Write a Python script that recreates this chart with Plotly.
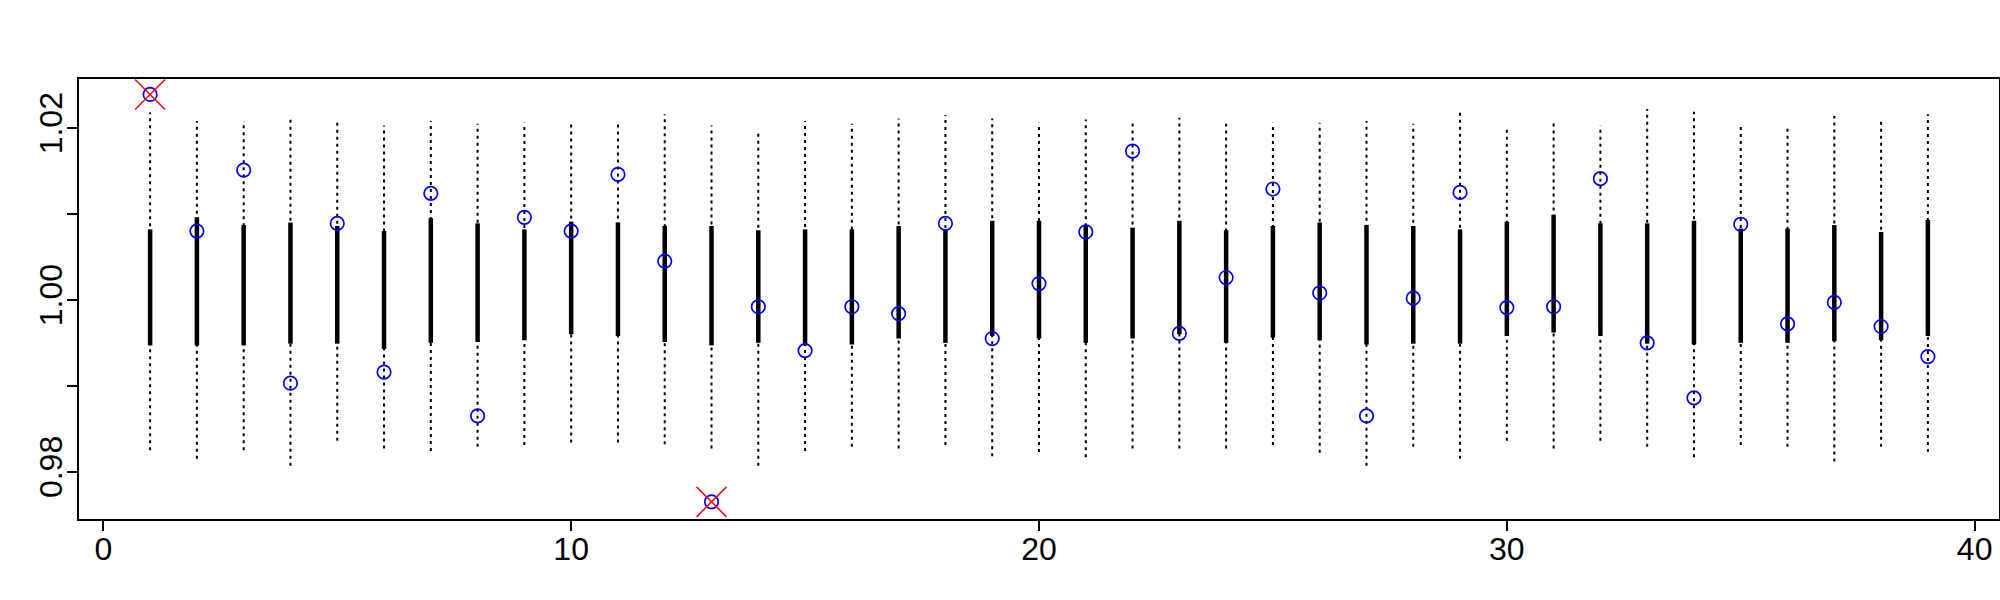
import plotly.graph_objects as go

# Item index
items = list(range(1, 40))

# Observed value (blue circles)
observed = [1.0239, 1.0080, 1.0151, 0.9903, 1.0089, 0.9916, 1.0124, 0.9865, 1.0096, 1.0080,
            1.0146, 1.0045, 0.9765, 0.9992, 0.9941, 0.9992, 0.9984, 1.0089, 0.9955, 1.0019,
            1.0079, 1.0173, 0.9961, 1.0026, 1.0129, 1.0008, 0.9865, 1.0002, 1.0125, 0.9991,
            0.9992, 1.0141, 0.9950, 0.9886, 1.0088, 0.9972, 0.9997, 0.9969, 0.9934]

# Outer interval (dotted whiskers)
whisker_low = [0.9825, 0.9815, 0.9825, 0.9807, 0.9836, 0.9827, 0.9824, 0.9829, 0.9831, 0.9834,
               0.9834, 0.9832, 0.9827, 0.9807, 0.9824, 0.9829, 0.9827, 0.9831, 0.9818, 0.9823,
               0.9817, 0.9827, 0.9827, 0.9827, 0.9831, 0.9822, 0.9807, 0.9829, 0.9815, 0.9836,
               0.9827, 0.9836, 0.9829, 0.9817, 0.9831, 0.9829, 0.9812, 0.9829, 0.9823]
whisker_high = [1.0218, 1.0208, 1.0208, 1.0211, 1.0210, 1.0203, 1.0208, 1.0205, 1.0206, 1.0208,
                1.0208, 1.0216, 1.0203, 1.0194, 1.0208, 1.0205, 1.0211, 1.0215, 1.0211, 1.0206,
                1.0210, 1.0210, 1.0212, 1.0205, 1.0206, 1.0206, 1.0208, 1.0205, 1.0218, 1.0202,
                1.0210, 1.0203, 1.0222, 1.0219, 1.0205, 1.0203, 1.0214, 1.0212, 1.0216]

# Inner interval (thick bars)
bar_low = [0.9947, 0.9947, 0.9947, 0.9949, 0.9949, 0.9943, 0.9950, 0.9951, 0.9953, 0.9960,
           0.9958, 0.9951, 0.9947, 0.9950, 0.9947, 0.9948, 0.9955, 0.9950, 0.9958, 0.9955,
           0.9950, 0.9955, 0.9960, 0.9950, 0.9956, 0.9953, 0.9948, 0.9949, 0.9949, 0.9958,
           0.9962, 0.9958, 0.9949, 0.9948, 0.9950, 0.9950, 0.9952, 0.9953, 0.9958]
bar_high = [1.0082, 1.0096, 1.0087, 1.0090, 1.0086, 1.0080, 1.0095, 1.0089, 1.0082, 1.0091,
            1.0090, 1.0086, 1.0086, 1.0081, 1.0082, 1.0082, 1.0086, 1.0082, 1.0092, 1.0092,
            1.0087, 1.0084, 1.0092, 1.0081, 1.0086, 1.0090, 1.0087, 1.0086, 1.0082, 1.0091,
            1.0099, 1.0089, 1.0089, 1.0092, 1.0083, 1.0083, 1.0087, 1.0079, 1.0093]

x_ticks = [0, 10, 20, 30, 40]
x_labels = ["0", "10", "20", "30", "40"]
y_ticks = [0.98, 0.99, 1.00, 1.01, 1.02]
y_labels = ["0.98", "", "1.00", "", "1.02"]


def segments(lo, hi):
    xs, ys = [], []
    for i, a, b in zip(items, lo, hi):
        xs += [i, i, None]
        ys += [a, b, None]
    return xs, ys


wx, wy = segments(whisker_low, whisker_high)
bx, by = segments(bar_low, bar_high)

flag_x = [i for i, v, lo, hi in zip(items, observed, whisker_low, whisker_high) if v > hi or v < lo]
flag_y = [v for v, lo, hi in zip(observed, whisker_low, whisker_high) if v > hi or v < lo]

fig = go.Figure()
fig.add_trace(go.Scatter(x=wx, y=wy, mode="lines",
                         line=dict(color="black", width=2, dash="3px,4px"),
                         hoverinfo="skip", showlegend=False))
fig.add_trace(go.Scatter(x=bx, y=by, mode="lines",
                         line=dict(color="black", width=4.5),
                         hoverinfo="skip", showlegend=False))
fig.add_trace(go.Scatter(x=items, y=observed, mode="markers",
                         marker=dict(symbol="circle-open", size=13.5, color="#0000ff",
                                     line=dict(width=1.7, color="#0000ff")),
                         showlegend=False))
fig.add_trace(go.Scatter(x=flag_x, y=flag_y, mode="markers",
                         marker=dict(symbol="x-thin-open", size=30, color="#e8141c",
                                     line=dict(width=1.6, color="#e8141c")),
                         showlegend=False))

axis_font = dict(family="Liberation Sans, Arial, sans-serif", size=32, color="black")

fig.update_layout(
    width=2000, height=600,
    margin=dict(l=79, r=1, t=79, b=81, autoexpand=False),
    paper_bgcolor="white", plot_bgcolor="white",
    xaxis=dict(range=[-0.52, 40.52], tickvals=x_ticks, ticktext=x_labels,
               showgrid=False, zeroline=False, showline=True, mirror=True,
               linecolor="black", linewidth=2, ticks="outside", ticklen=10, tickwidth=2,
               tickcolor="black", tickfont=axis_font, ticklabelstandoff=-9, automargin=False),
    yaxis=dict(range=[0.9745, 1.0257], tickvals=y_ticks, ticktext=y_labels,
               showgrid=False, zeroline=False, showline=True, mirror=True,
               linecolor="black", linewidth=2, ticks="outside", ticklen=10, tickwidth=2,
               tickcolor="black", tickfont=axis_font, tickangle=-90, ticklabelstandoff=-8,
               automargin=False),
)

fig.write_html("out.html",
               config={"displayModeBar": False},
               post_script="document.body.style.margin='0';document.body.style.overflow='hidden';")
